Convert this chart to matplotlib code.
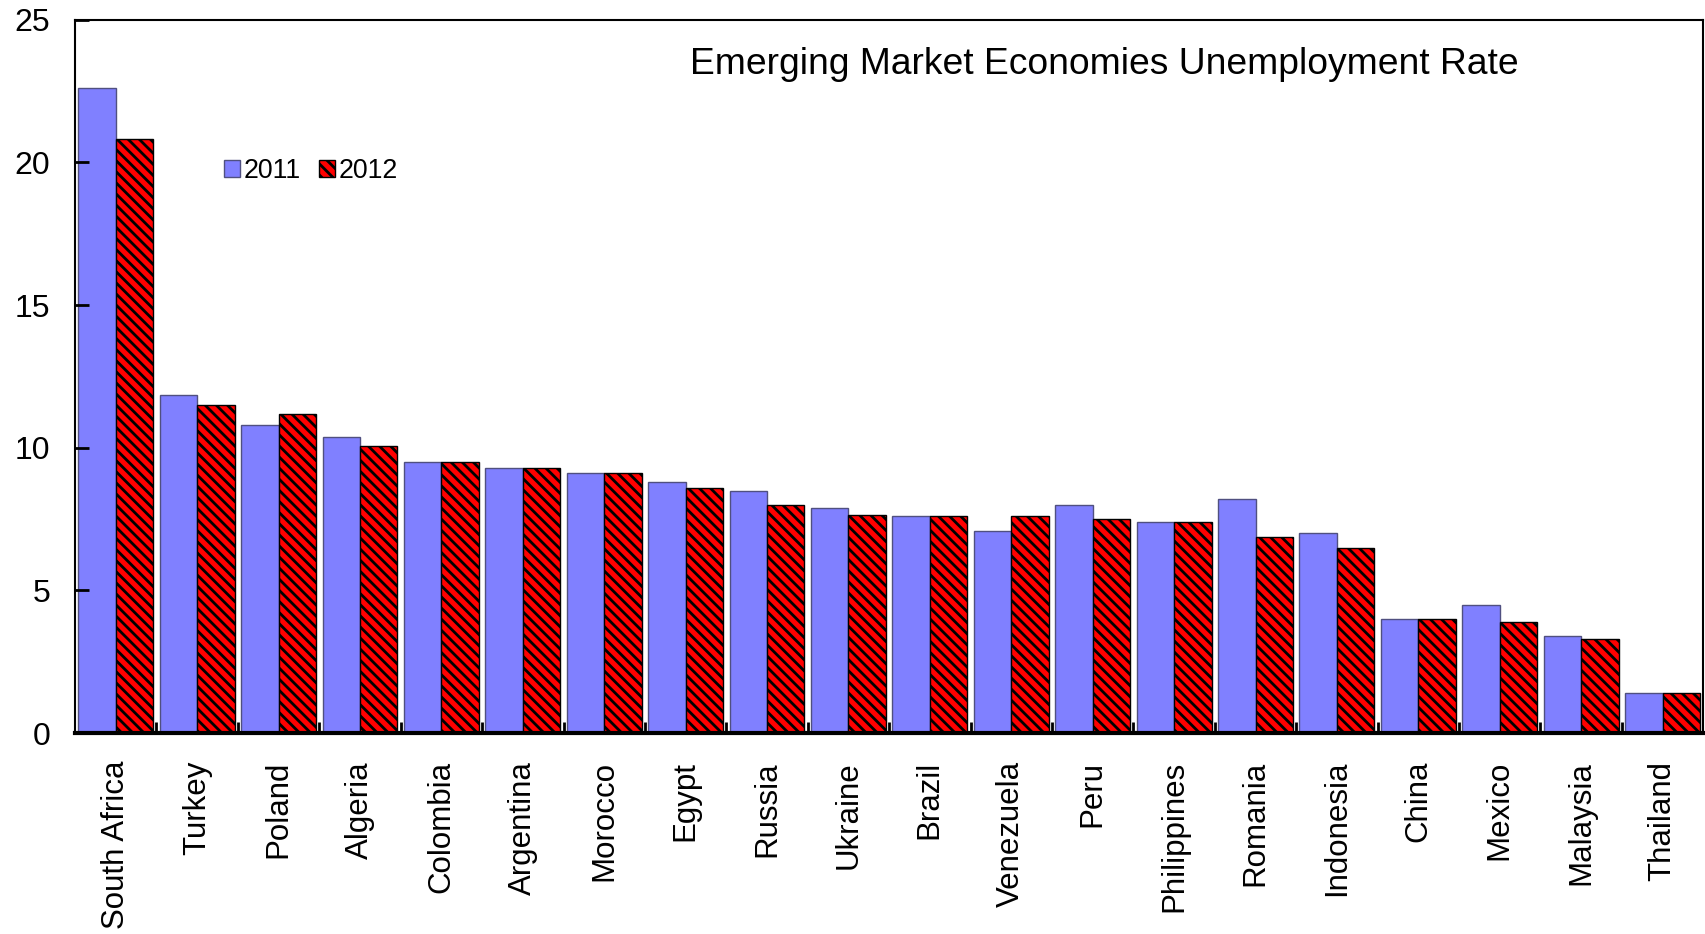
import numpy as np
import matplotlib.pyplot as plt

plt.rcParams['font.family'] = ['Liberation Sans', 'DejaVu Sans']
plt.rcParams['hatch.linewidth'] = 2.0

# Datos
paises = ['South Africa', 'Turkey', 'Poland', 'Algeria', 'Colombia', 'Argentina',
          'Morocco', 'Egypt', 'Russia', 'Ukraine', 'Brazil', 'Venezuela', 'Peru',
          'Philippines', 'Romania', 'Indonesia', 'China', 'Mexico', 'Malaysia', 'Thailand']
tasa_2011 = [22.6, 11.85, 10.8, 10.37, 9.5, 9.3, 9.1, 8.8, 8.5, 7.9,
             7.6, 7.1, 8.0, 7.4, 8.2, 7.0, 4.0, 4.5, 3.4, 1.4]
tasa_2012 = [20.8, 11.5, 11.2, 10.06, 9.5, 9.3, 9.1, 8.6, 8.0, 7.66,
             7.6, 7.6, 7.5, 7.4, 6.86, 6.5, 4.0, 3.9, 3.3, 1.4]

x = np.arange(len(paises))
w = 0.46

fig = plt.figure(figsize=(17.05, 9.34), dpi=100)
ax = fig.add_axes([0.044, 0.215, 0.955, 0.764])

ax.bar(x - w/2, tasa_2011, w, color='#8080ff', edgecolor='#505080', linewidth=1, label='2011')
ax.bar(x + w/2, tasa_2012, w, color='#ff0000', edgecolor='black', linewidth=1,
       hatch='\\\\\\', label='2012')

ax.set_xlim(-0.5, len(paises) - 0.5)
ax.set_ylim(0, 25)
ax.set_yticks(range(0, 26, 5))
ax.tick_params(axis='y', direction='in', length=10, width=2, pad=18, labelsize=23)

# ticks en los limites de los grupos, etiquetas en el centro
ax.set_xticks(x[:-1] + 0.5)
ax.set_xticklabels([])
ax.tick_params(axis='x', which='major', direction='in', length=8, width=2)
ax.set_xticks(x, minor=True)
ax.set_xticklabels(paises, minor=True, rotation=90, fontsize=22.5)
ax.tick_params(axis='x', which='minor', length=0, pad=20)

for s in ['left', 'top', 'right']:
    ax.spines[s].set_linewidth(1.5)
ax.spines['bottom'].set_linewidth(3)

ax.text(0.632, 0.937, 'Emerging Market Economies Unemployment Rate', transform=ax.transAxes,
        ha='center', va='center', fontsize=26.8)

ax.legend(loc='center left', bbox_to_anchor=(0.1235, 0.817), bbox_transform=fig.transFigure,
          ncol=2, frameon=False, fontsize=19.3, handlelength=0.6, handleheight=0.6,
          handletextpad=0.12, columnspacing=0.7, borderpad=0)

plt.savefig('out.png', dpi=100)
